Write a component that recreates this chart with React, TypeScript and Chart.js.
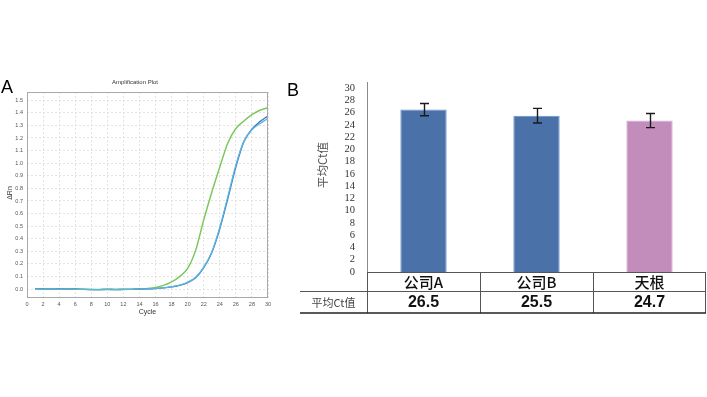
import React, { useEffect, useRef } from 'react';
import { Chart, registerables } from 'chart.js';
Chart.register(...registerables);

// ---------- Panel A data ----------
const cycles = [1, 2, 3, 4, 5, 6, 7, 8, 9, 10, 11, 12, 13, 14, 15, 16, 17, 18, 19, 20, 21, 22, 23, 24, 25, 26, 27, 28, 29, 30];
const greenDeltaRn = [0.002, 0.003, 0.001, 0.004, 0.002, 0.003, 0.0, -0.002, -0.002, -0.001, -0.002, -0.001, 0.0, 0.003, 0.006, 0.014, 0.03, 0.058, 0.1, 0.165, 0.31, 0.55, 0.77, 0.97, 1.16, 1.275, 1.335, 1.385, 1.42, 1.44];
const blueDeltaRn = [0.004, 0.002, 0.0, 0.002, 0.0, 0.0, -0.002, -0.003, -0.003, -0.002, -0.003, -0.002, -0.001, 0.0, 0.002, 0.005, 0.01, 0.018, 0.03, 0.052, 0.09, 0.17, 0.29, 0.48, 0.72, 0.97, 1.17, 1.27, 1.33, 1.375];
const cyanDeltaRn = [0.003, 0.001, 0.001, 0.001, 0.001, -0.001, -0.002, -0.002, -0.004, -0.003, -0.002, -0.003, -0.001, 0.001, 0.003, 0.006, 0.011, 0.02, 0.032, 0.055, 0.095, 0.175, 0.295, 0.49, 0.735, 0.985, 1.175, 1.265, 1.315, 1.355];
const xTicksA = [0, 2, 4, 6, 8, 10, 12, 14, 16, 18, 20, 22, 24, 26, 28, 30];
const yTicksA = [0.0, 0.1, 0.2, 0.3, 0.4, 0.5, 0.6, 0.7, 0.8, 0.9, 1.0, 1.1, 1.2, 1.3, 1.4, 1.5];
const titleA = 'Amplification Plot';
const xTitleA = 'Cycle';
const yTitleA = 'ΔRn';

// ---------- Panel B data ----------
const companies = ['公司A', '公司B', '天根'];
const meanCt = [26.5, 25.5, 24.7];
const ctError = [1.0, 1.2, 1.15];
const yTicksB = [0, 2, 4, 6, 8, 10, 12, 14, 16, 18, 20, 22, 24, 26, 28, 30];
const rowLabel = '平均Ct值';
const yTitleB = '平均Ct值';

const CJK = '"Noto Sans CJK SC", "Liberation Sans", Arial, sans-serif';

function PanelA() {
  const ref = useRef<HTMLCanvasElement>(null);
  useEffect(() => {
    const decor = {
      id: 'decorA',
      afterDraw(chart: any) {
        const { ctx, chartArea: a } = chart;
        ctx.save();
        ctx.strokeStyle = '#a8a8a8';
        ctx.lineWidth = 1;
        ctx.strokeRect(a.left + 0.5, a.top + 0.5, a.right - a.left - 1, a.bottom - a.top - 1);
        ctx.fillStyle = '#000';
        ctx.font = '18px "Liberation Sans", Arial, sans-serif';
        ctx.textAlign = 'left';
        ctx.textBaseline = 'alphabetic';
        ctx.fillText('A', 1, 23);
        ctx.fillStyle = '#333';
        ctx.font = '6px "Liberation Sans", Arial, sans-serif';
        ctx.textAlign = 'center';
        ctx.textBaseline = 'middle';
        ctx.fillText(titleA, 135, 12);
        ctx.font = '7px "Liberation Sans", Arial, sans-serif';
        ctx.fillText(xTitleA, (a.left + a.right) / 2, 242);
        ctx.translate(10, 123);
        ctx.rotate(-Math.PI / 2);
        ctx.fillText(yTitleA, 0, 0);
        ctx.restore();
      },
    };
    const mk = (arr: number[]) => cycles.map((c, i) => ({ x: c, y: arr[i] }));
    const chart = new Chart(ref.current!, {
      type: 'line',
      data: {
        datasets: [
          { data: mk(cyanDeltaRn), borderColor: '#5bb6dc', borderWidth: 1.3, pointRadius: 0, cubicInterpolationMode: 'monotone' },
          { data: mk(blueDeltaRn), borderColor: '#3a6fc4', borderWidth: 1.3, pointRadius: 0, cubicInterpolationMode: 'monotone' },
          { data: mk(greenDeltaRn), borderColor: '#7cc85c', borderWidth: 1.5, pointRadius: 0, cubicInterpolationMode: 'monotone' },
        ],
      } as any,
      options: {
        animation: false,
        responsive: false,
        layout: { padding: { top: 22, right: 17, left: 0, bottom: 0 } },
        plugins: { legend: { display: false }, tooltip: { enabled: false } },
        scales: {
          x: {
            type: 'linear',
            min: 0,
            max: 30,
            afterBuildTicks: (s: any) => { s.ticks = xTicksA.map((v) => ({ value: v })); },
            afterFit: (s: any) => { s.height = 27; },
            ticks: { font: { size: 5.5, family: 'Arial' }, color: '#555', padding: 3, maxRotation: 0, autoSkip: false },
            grid: { color: '#dcdcdc', lineWidth: 0.8, drawTicks: false },
            border: { display: false, dash: [2, 2] },
          },
          y: {
            type: 'linear',
            min: -0.07,
            max: 1.565,
            afterBuildTicks: (s: any) => { s.ticks = yTicksA.map((v) => ({ value: v })); },
            afterFit: (s: any) => { s.width = 27; },
            ticks: { font: { size: 5.5, family: 'Arial' }, color: '#555', padding: 4, callback: (v: any) => Number(v).toFixed(1), autoSkip: false },
            grid: { color: '#dcdcdc', lineWidth: 0.8, drawTicks: false },
            border: { display: false, dash: [2, 2] },
          },
        },
      } as any,
      plugins: [decor],
    });
    return () => chart.destroy();
  }, []);
  return <canvas ref={ref} width={285} height={255} style={{ width: 285, height: 255, display: 'block' }} />;
}

function PanelB() {
  const ref = useRef<HTMLCanvasElement>(null);
  useEffect(() => {
    const extras = {
      id: 'extrasB',
      afterDatasetsDraw(chart: any) {
        const { ctx } = chart;
        const ys = chart.scales.y;
        const meta = chart.getDatasetMeta(0);
        ctx.save();
        ctx.strokeStyle = '#1a1a1a';
        ctx.lineWidth = 1.4;
        meta.data.forEach((bar: any, i: number) => {
          const x = Math.round(bar.x) + 0.5;
          const yTop = ys.getPixelForValue(meanCt[i] + ctError[i]);
          const yBot = ys.getPixelForValue(meanCt[i] - ctError[i]);
          ctx.beginPath();
          ctx.moveTo(x, yTop); ctx.lineTo(x, yBot);
          ctx.moveTo(x - 4.5, yTop); ctx.lineTo(x + 4.5, yTop);
          ctx.moveTo(x - 4.5, yBot); ctx.lineTo(x + 4.5, yBot);
          ctx.stroke();
        });
        ctx.restore();
      },
      afterDraw(chart: any) {
        const { ctx, chartArea: a } = chart;
        const xs = chart.scales.x;
        const half = (xs.getPixelForValue(1) - xs.getPixelForValue(0)) / 2;
        const top = a.bottom;
        const mid = top + 19;
        const bot = top + 41;
        const leftX = 15;
        ctx.save();
        ctx.strokeStyle = '#555';
        ctx.lineWidth = 1;
        ctx.beginPath();
        ctx.moveTo(a.left, top + 0.5); ctx.lineTo(a.right, top + 0.5);
        ctx.moveTo(leftX, mid + 0.5); ctx.lineTo(a.right, mid + 0.5);
        companies.forEach((_, i) => {
          const c = xs.getPixelForValue(i);
          const l = Math.round(c - half) + 0.5;
          ctx.moveTo(l, top); ctx.lineTo(l, bot);
        });
        const rEdge = Math.round(xs.getPixelForValue(companies.length - 1) + half) - 0.5;
        ctx.moveTo(rEdge, top); ctx.lineTo(rEdge, bot);
        ctx.stroke();
        ctx.strokeStyle = '#222';
        ctx.lineWidth = 1.6;
        ctx.beginPath();
        ctx.moveTo(leftX, bot); ctx.lineTo(a.right, bot);
        ctx.stroke();
        ctx.textAlign = 'center';
        ctx.textBaseline = 'middle';
        ctx.fillStyle = '#111';
        companies.forEach((name, i) => {
          const c = xs.getPixelForValue(i);
          ctx.font = '500 15px ' + CJK;
          ctx.fillText(name, c, (top + mid) / 2 + 1);
          ctx.font = 'bold 16px "Liberation Sans", Arial, sans-serif';
          ctx.fillText(meanCt[i].toFixed(1), c, (mid + bot) / 2 + 1);
        });
        ctx.fillStyle = '#444';
        ctx.font = '11px ' + CJK;
        ctx.fillText(rowLabel, (leftX + a.left) / 2, (mid + bot) / 2 + 1);
        ctx.fillStyle = '#000';
        ctx.font = '18px "Liberation Sans", Arial, sans-serif';
        ctx.textAlign = 'left';
        ctx.textBaseline = 'alphabetic';
        ctx.fillText('B', 2, 26);
        ctx.fillStyle = '#555';
        ctx.font = '11.5px ' + CJK;
        ctx.textAlign = 'center';
        ctx.textBaseline = 'middle';
        ctx.translate(38, 95);
        ctx.rotate(-Math.PI / 2);
        ctx.fillText(yTitleB, 0, 0);
        ctx.restore();
      },
    };
    const chart = new Chart(ref.current!, {
      type: 'bar',
      data: {
        labels: companies,
        datasets: [
          {
            data: meanCt,
            backgroundColor: ['#4a72a8', '#4a72a8', '#c28cbb'],
            borderColor: ['#6790cc', '#6790cc', '#d7aad0'],
            borderWidth: 1,
            categoryPercentage: 1,
            barPercentage: 0.41,
          },
        ],
      },
      options: {
        animation: false,
        responsive: false,
        layout: { padding: { top: 12, right: 1, left: 0, bottom: 0 } },
        plugins: { legend: { display: false }, tooltip: { enabled: false } },
        scales: {
          x: {
            afterFit: (s: any) => { s.height = 53; },
            ticks: { display: false },
            grid: { display: false },
            border: { display: false },
          },
          y: {
            min: 0,
            max: 31,
            afterBuildTicks: (s: any) => { s.ticks = yTicksB.map((v) => ({ value: v })); },
            afterFit: (s: any) => { s.width = 82; s.paddingTop = 0; s.paddingBottom = 0; },
            ticks: { font: { size: 10.5, family: '"Liberation Serif", "Times New Roman", serif' }, color: '#333', padding: 12, autoSkip: false },
            grid: { display: false, drawTicks: false },
            border: { display: true, color: '#8a8a8a', width: 1 },
          },
        },
      } as any,
      plugins: [extras],
    });
    return () => chart.destroy();
  }, []);
  return <canvas ref={ref} width={422} height={255} style={{ width: 422, height: 255, display: 'block' }} />;
}

export default function App() {
  return (
    <div style={{ position: 'absolute', left: 0, top: 0, width: 707, height: 397, background: '#fff', overflow: 'hidden' }}>
      <div style={{ position: 'absolute', left: 0, top: 70 }}>
        <PanelA />
      </div>
      <div style={{ position: 'absolute', left: 285, top: 70 }}>
        <PanelB />
      </div>
    </div>
  );
}
